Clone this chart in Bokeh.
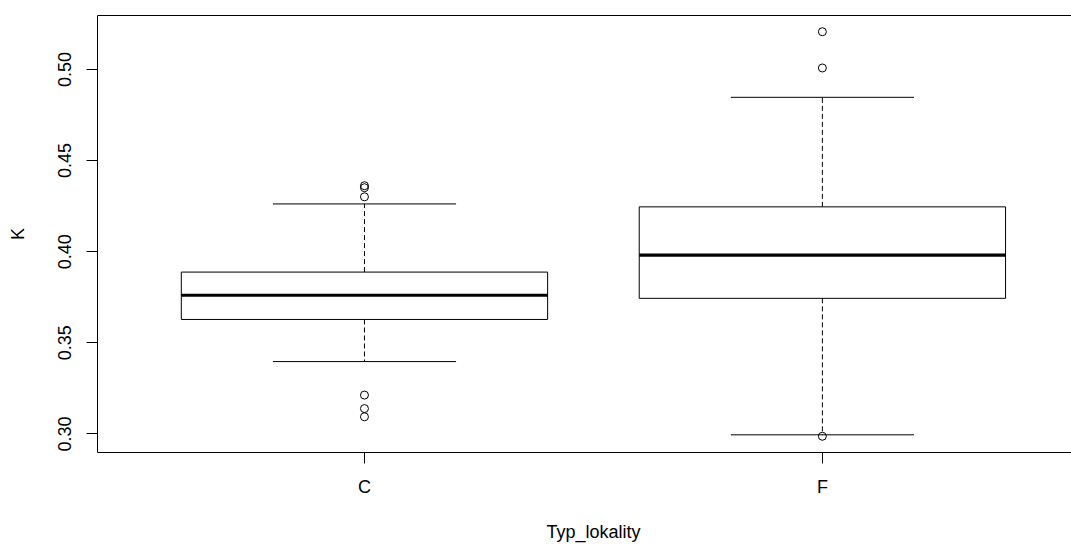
from bokeh.plotting import figure
from bokeh.models import Range1d, FixedTicker, LinearAxis
from bokeh.embed import file_html
from bokeh.resources import INLINE

# ---- data ----
categories = ["C", "F"]
lower_whisker = [0.3397, 0.2995]
q1 = [0.3628, 0.3744]
median = [0.3761, 0.3981]
q3 = [0.3888, 0.4246]
upper_whisker = [0.4262, 0.4847]
outliers_C = [0.4362, 0.4351, 0.4301, 0.3213, 0.3139, 0.3094]
outliers_F = [0.5207, 0.5008, 0.2987]
y_ticks = [0.30, 0.35, 0.40, 0.45, 0.50]
y_tick_labels = ["0.30", "0.35", "0.40", "0.45", "0.50"]
x_title = "Typ_lokality"
y_title = "K"

FONT = "Liberation Sans"
FS = "18px"

xpos = [i + 1 for i in range(len(categories))]
x_mid = (xpos[0] + xpos[-1]) / 2
box_w = 0.8
cap_w = 0.4

p = figure(width=1071, height=544, output_backend="svg", toolbar_location=None,
           x_range=Range1d(0.417, 2.544), y_range=Range1d(0.2898, 0.5296),
           min_border_left=97, min_border_right=0, min_border_top=15, min_border_bottom=92,
           x_axis_location="below", y_axis_location="left")
p.grid.visible = False
p.outline_line_color = None
p.background_fill_color = "white"

# boxes
p.quad(left=[x - box_w / 2 for x in xpos], right=[x + box_w / 2 for x in xpos],
       bottom=q1, top=q3, fill_color="white", line_color="black", line_width=1)
# medians
p.segment(x0=[x - box_w / 2 for x in xpos], x1=[x + box_w / 2 for x in xpos],
          y0=median, y1=median, line_color="black", line_width=3.2)
# whiskers
p.segment(x0=xpos, x1=xpos, y0=q3, y1=upper_whisker, line_color="black",
          line_width=1, line_dash="5 3")
p.segment(x0=xpos, x1=xpos, y0=q1, y1=lower_whisker, line_color="black",
          line_width=1, line_dash="5 3")
# caps
p.segment(x0=[x - cap_w / 2 for x in xpos], x1=[x + cap_w / 2 for x in xpos],
          y0=upper_whisker, y1=upper_whisker, line_color="black", line_width=1)
p.segment(x0=[x - cap_w / 2 for x in xpos], x1=[x + cap_w / 2 for x in xpos],
          y0=lower_whisker, y1=lower_whisker, line_color="black", line_width=1)
# outliers
p.scatter(x=[xpos[0]] * len(outliers_C), y=outliers_C, marker="circle", size=8,
          fill_color=None, line_color="black", line_width=1)
p.scatter(x=[xpos[1]] * len(outliers_F), y=outliers_F, marker="circle", size=8,
          fill_color=None, line_color="black", line_width=1)

# x axis
xa = p.xaxis[0]
xa.ticker = FixedTicker(ticks=xpos)
xa.major_label_overrides = {x: c for x, c in zip(xpos, categories)}
xa.minor_tick_line_color = None
xa.major_tick_out = 11
xa.major_tick_in = 0
xa.major_label_standoff = 13
xa.major_label_text_font = FONT
xa.major_label_text_font_size = FS
xa.major_label_text_color = "black"
xa.axis_line_color = "black"

# y axis
ya = p.yaxis[0]
ya.ticker = FixedTicker(ticks=y_ticks)
ya.major_label_overrides = {t: l for t, l in zip(y_ticks, y_tick_labels)}
ya.minor_tick_line_color = None
ya.major_tick_out = 11
ya.major_tick_in = 0
ya.major_label_orientation = "vertical"
ya.major_label_standoff = 15
ya.major_label_text_font = FONT
ya.major_label_text_font_size = FS
ya.major_label_text_color = "black"
ya.axis_line_color = "black"
ya.axis_label = y_title
ya.axis_label_text_font = FONT
ya.axis_label_text_font_size = FS
ya.axis_label_text_font_style = "normal"
ya.axis_label_text_color = "black"
ya.axis_label_standoff = 28

# top border as an empty axis
top = LinearAxis(ticker=FixedTicker(ticks=[]), axis_line_color="black",
                 major_tick_line_color=None, minor_tick_line_color=None,
                 major_label_text_font_size="0px")
p.add_layout(top, "above")

# x title: a second bottom axis with one label at the middle of the categories
title_axis = LinearAxis(ticker=FixedTicker(ticks=[x_mid]),
                        major_label_overrides={x_mid: x_title},
                        axis_line_color=None, major_tick_line_color=None,
                        minor_tick_line_color=None, major_tick_out=0, major_tick_in=0,
                        major_label_standoff=22, major_label_text_font=FONT,
                        major_label_text_font_size=FS, major_label_text_color="black")
p.add_layout(title_axis, "below")

open("out.html", "w").write(file_html(p, INLINE))
